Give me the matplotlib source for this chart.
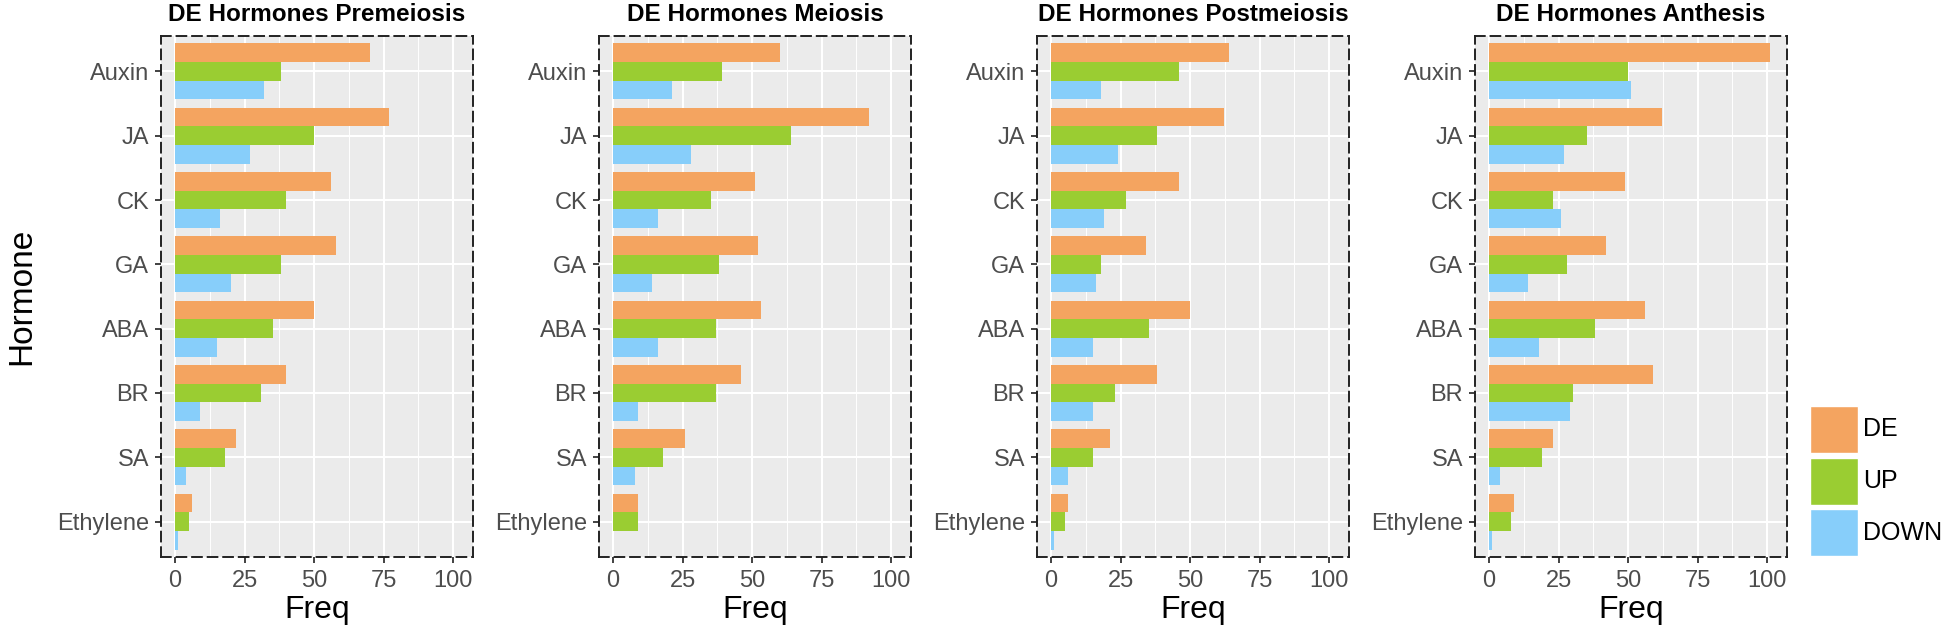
import matplotlib
matplotlib.use("Agg")
import matplotlib.pyplot as plt
from matplotlib.patches import Rectangle
import numpy as np

plt.rcParams['font.family'] = ['Liberation Sans', 'DejaVu Sans']

hormones = ['Auxin', 'JA', 'CK', 'GA', 'ABA', 'BR', 'SA', 'Ethylene']
stages = ['Premeiosis', 'Meiosis', 'Postmeiosis', 'Anthesis']

# DE / UP / DOWN counts per stage, in hormone order
de = {
    'Premeiosis':  [70, 77, 56, 58, 50, 40, 22, 6],
    'Meiosis':     [60, 92, 51, 52, 53, 46, 26, 9],
    'Postmeiosis': [64, 62, 46, 34, 50, 38, 21, 6],
    'Anthesis':    [101, 62, 49, 42, 56, 59, 23, 9],
}
up = {
    'Premeiosis':  [38, 50, 40, 38, 35, 31, 18, 5],
    'Meiosis':     [39, 64, 35, 38, 37, 37, 18, 9],
    'Postmeiosis': [46, 38, 27, 18, 35, 23, 15, 5],
    'Anthesis':    [50, 35, 23, 28, 38, 30, 19, 8],
}
down = {
    'Premeiosis':  [32, 27, 16, 20, 15, 9, 4, 1],
    'Meiosis':     [21, 28, 16, 14, 16, 9, 8, 0],
    'Postmeiosis': [18, 24, 19, 16, 15, 15, 6, 1],
    'Anthesis':    [51, 27, 26, 14, 18, 29, 4, 1],
}

series = ['DE', 'UP', 'DOWN']
colors = {'DE': '#F4A460', 'UP': '#9ACD32', 'DOWN': '#87CEFA'}

W, H = 1946, 627
fig = plt.figure(figsize=(W / 100, H / 100), dpi=100)

# panel boxes in pixels: left, right
panels_px = [(161, 473), (599, 911), (1037, 1349), (1475, 1787)]
top_px, bot_px = 36, 557

y = np.arange(len(hormones))
bh = 0.29

for stage, (l, r) in zip(stages, panels_px):
    ax = fig.add_axes([l / W, 1 - bot_px / H, (r - l) / W, (bot_px - top_px) / H])
    ax.set_facecolor('#EBEBEB')
    vals = {'DE': de[stage], 'UP': up[stage], 'DOWN': down[stage]}
    for k, s in enumerate(series):
        ax.barh(y + (k - 1) * bh, vals[s], height=bh, color=colors[s], zorder=3)
    ax.set_xlim(-5.1, 107.1)
    ax.set_ylim(len(hormones) - 1 + 0.55, -0.55)
    ax.set_xticks([0, 25, 50, 75, 100])
    ax.set_xticks([12.5, 37.5, 62.5, 87.5], minor=True)
    ax.set_yticks(y)
    ax.set_yticklabels(hormones)
    ax.grid(True, which='major', color='white', lw=1.5, zorder=1)
    ax.grid(True, which='minor', axis='x', color='white', lw=0.7, zorder=1)
    ax.tick_params(which='major', length=4.5, width=1.3, color='#333333',
                   labelsize=17, labelcolor='#4D4D4D')
    ax.tick_params(axis='x', pad=5)
    ax.tick_params(axis='y', pad=4)
    ax.tick_params(which='minor', length=0)
    for sp in ax.spines.values():
        sp.set_linestyle((0, (5, 3)))
        sp.set_linewidth(1.4)
        sp.set_color('#222222')
    ax.set_xlabel('Freq', fontsize=23, labelpad=2)
    ax.set_title('DE Hormones ' + stage, fontsize=17.5, fontweight='bold', pad=10.5)
    if stage == 'Premeiosis':
        ax.set_ylabel('Hormone', fontsize=24, labelpad=14)

# legend keys drawn by hand (ggplot style squares)
key_x, key_y, key_w, key_h, key_gap = 1810, 406, 48, 47, 4.5
for i, s in enumerate(series):
    top = key_y + i * (key_h + key_gap)
    fig.add_artist(Rectangle((key_x / W, 1 - (top + key_h) / H), key_w / W, key_h / H,
                             transform=fig.transFigure, facecolor=colors[s],
                             edgecolor='white', lw=1))
    fig.text((key_x + key_w + 5) / W, 1 - (top + key_h / 2) / H, s,
             fontsize=18, va='center', ha='left')

fig.savefig('out.png', dpi=100)
